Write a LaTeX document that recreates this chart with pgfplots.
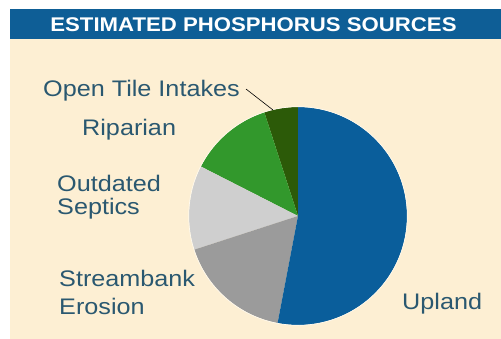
\documentclass[border=0pt]{standalone}
\usepackage{pgfplots}
\pgfplotsset{compat=1.18}
\usepackage{pgfplotstable}
\usepackage{graphicx}
\usepackage{fontspec}
\setmainfont{Liberation Sans}
\definecolor{bgc}{RGB}{253,239,211}
\definecolor{barc}{RGB}{14,94,150}
\definecolor{uplandc}{RGB}{10,94,155}
\definecolor{streamc}{RGB}{155,155,155}
\definecolor{septc}{RGB}{207,207,207}
\definecolor{ripc}{RGB}{50,152,44}
\definecolor{tilec}{RGB}{44,90,8}
\definecolor{txtc}{RGB}{42,88,112}
\pgfplotstableread{
label value
OpenTile 5
Riparian 12.5
Septics 12.5
Streambank 17
Upland 53
}\piedata
\pgfplotstablegetelem{0}{value}\of\piedata \pgfmathsetmacro\vA{\pgfplotsretval}%
\pgfplotstablegetelem{1}{value}\of\piedata \pgfmathsetmacro\vB{\pgfplotsretval}%
\pgfplotstablegetelem{2}{value}\of\piedata \pgfmathsetmacro\vC{\pgfplotsretval}%
\pgfplotstablegetelem{3}{value}\of\piedata \pgfmathsetmacro\vD{\pgfplotsretval}%
\pgfplotstablegetelem{4}{value}\of\piedata \pgfmathsetmacro\vE{\pgfplotsretval}%
\pgfmathsetmacro\aA{90}%
\pgfmathsetmacro\aB{\aA+3.6*\vA}%
\pgfmathsetmacro\aC{\aB+3.6*\vB}%
\pgfmathsetmacro\aD{\aC+3.6*\vC}%
\pgfmathsetmacro\aE{\aD+3.6*\vD}%
\pgfmathsetmacro\aF{\aE+3.6*\vE}%
\newcommand{\lab}[1]{\fontsize{22.5bp}{27bp}\selectfont\scalebox{1.12}[1]{#1}}
\begin{document}%
\begin{tikzpicture}
\begin{axis}[width=501bp, height=339bp, scale only axis,
  xmin=0, xmax=501, ymin=0, ymax=339, hide axis, clip=false]
\fill[white] (axis cs:0,0) rectangle (axis cs:501,339);
\fill[bgc] (axis cs:10,0) rectangle (axis cs:501,300);
\fill[barc] (axis cs:10,300) rectangle (axis cs:501,330);
\node[anchor=base, text=white, inner sep=0pt, font=\bfseries\fontsize{19.8bp}{24bp}\selectfont] at (axis cs:253.5,307) {\scalebox{1.12}[1]{ESTIMATED PHOSPHORUS SOURCES}};
% pie slices
\fill[tilec] (axis cs:298,123) -- ++(\aA:109bp) arc[start angle=\aA, end angle=\aB, radius=109bp] -- cycle;
\fill[ripc] (axis cs:298,123) -- ++(\aB:109bp) arc[start angle=\aB, end angle=\aC, radius=109bp] -- cycle;
\fill[septc] (axis cs:298,123) -- ++(\aC:109bp) arc[start angle=\aC, end angle=\aD, radius=109bp] -- cycle;
\fill[streamc] (axis cs:298,123) -- ++(\aD:109bp) arc[start angle=\aD, end angle=\aE, radius=109bp] -- cycle;
\fill[uplandc] (axis cs:298,123) -- ++(\aE:109bp) arc[start angle=\aE, end angle=\aF, radius=109bp] -- cycle;
\draw[white!60!bgc, line width=0.7bp] (axis cs:298,123) circle[radius=109.3bp];
% leader line
\draw[black, line width=0.6bp] (axis cs:246,250) -- (axis cs:273,229);
% labels
\node[anchor=base west, inner sep=0pt, text=txtc] at (axis cs:43,242) {\lab{Open Tile Intakes}};
\node[anchor=base west, inner sep=0pt, text=txtc] at (axis cs:82,203) {\lab{Riparian}};
\node[anchor=base west, inner sep=0pt, text=txtc] at (axis cs:57,147) {\lab{Outdated}};
\node[anchor=base west, inner sep=0pt, text=txtc] at (axis cs:57,124) {\lab{Septics}};
\node[anchor=base west, inner sep=0pt, text=txtc] at (axis cs:59,52) {\lab{Streambank}};
\node[anchor=base west, inner sep=0pt, text=txtc] at (axis cs:59,25) {\lab{Erosion}};
\node[anchor=base west, inner sep=0pt, text=txtc] at (axis cs:402,30) {\lab{Upland}};
\end{axis}
\end{tikzpicture}%
\end{document}
